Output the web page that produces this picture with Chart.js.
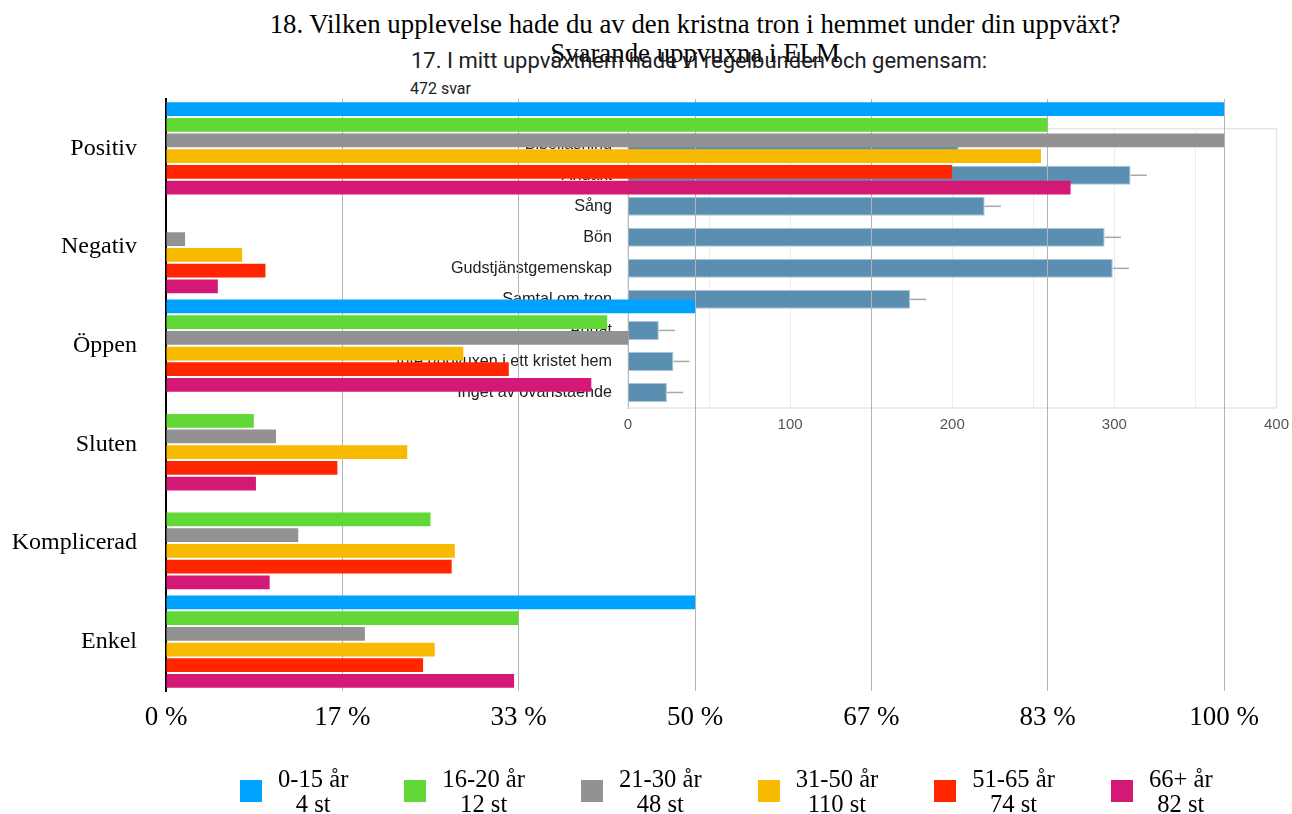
<!DOCTYPE html>
<html>
<head>
<meta charset="utf-8">
<script src="https://cdn.jsdelivr.net/npm/chart.js@4/dist/chart.umd.min.js"></script>
<style>
  html, body { margin: 0; padding: 0; background: #fff; }
  #wrap { position: relative; width: 1292px; height: 814px; overflow: hidden; }
  #mainTitle, #mainSub { position: absolute; left: 0; width: 1390px; text-align: center;
    font-family: "Liberation Serif", "Times New Roman", serif; font-size: 26.8px; color: #000; white-space: nowrap; }
  #mainTitle { top: 8px; line-height: 32px; }
  #mainSub { top: 37px; line-height: 32px; z-index: 1; }
  #ovTitle { position: absolute; left: 411px; top: 48px; line-height: 26px; font-family: Roboto, "Noto Sans", sans-serif;
    font-size: 22px; color: #202124; white-space: nowrap; z-index: 2; }
  #ovCount { position: absolute; left: 410px; top: 80px; line-height: 18px; font-family: Roboto, sans-serif;
    font-size: 16px; color: #202124; z-index: 2; }
  #ovCanvasBox { position: absolute; left: 380px; top: 103px; width: 917px; height: 347px; z-index: 0; }
  #mainCanvasBox { position: absolute; left: 0; top: 0; width: 1292px; height: 814px; z-index: 3; }
  #legend { position: absolute; left: 240px; top: 766px; display: flex; gap: 56px; z-index: 4;
    font-family: "Liberation Serif", "Times New Roman", serif; font-size: 24.6px; color: #000; }
  .item { display: flex; align-items: center; }
  .sw { width: 22px; height: 22px; margin-right: 16px; }
  .txt { text-align: center; line-height: 25px; white-space: nowrap; }
</style>
</head>
<body>
<div id="wrap">
  <div id="mainTitle">18. Vilken upplevelse hade du av den kristna tron i hemmet under din uppväxt?</div>
  <div id="mainSub">Svarande uppvuxna i ELM</div>
  <div id="ovTitle">17. I mitt uppväxthem hade vi regelbunden och gemensam:</div>
  <div id="ovCount">472 svar</div>
  <div id="ovCanvasBox"><canvas id="ov" width="917" height="347"></canvas></div>
  <div id="mainCanvasBox"><canvas id="main" width="1292" height="814"></canvas></div>
  <div id="legend"></div>
</div>
<script>
// ---- main chart data ----
const categories = ['Positiv', 'Negativ', 'Öppen', 'Sluten', 'Komplicerad', 'Enkel'];
const seriesNames = ['0-15 år', '16-20 år', '21-30 år', '31-50 år', '51-65 år', '66+ år'];
const seriesCounts = ['4 st', '12 st', '48 st', '110 st', '74 st', '82 st'];
const seriesColors = ['#00A2FF', '#61D836', '#929292', '#F8BA00', '#FF2600', '#D41876'];
const age0_15  = [100, 0, 50, 0, 0, 50];
const age16_20 = [83.3, 0, 41.7, 8.3, 25.0, 33.3];
const age21_30 = [100, 1.8, 43.7, 10.4, 12.5, 18.8];
const age31_50 = [82.7, 7.2, 28.1, 22.8, 27.3, 25.4];
const age51_65 = [74.3, 9.4, 32.4, 16.2, 27.0, 24.3];
const age66    = [85.5, 4.9, 40.2, 8.5, 9.8, 32.9];
const xTickValues = [0, 100 / 6, 200 / 6, 50, 400 / 6, 500 / 6, 100];

// ---- embedded (background) chart data ----
const ovCategories = ['Bibelläsning', 'Andakt', 'Sång', 'Bön', 'Gudstjänstgemenskap', 'Samtal om tron', 'Annat',
  'Inte uppvuxen i ett kristet hem', 'Inget av ovanstående'];
const ovValues = [204, 310, 220, 294, 299, 174, 19, 28, 24];
const ovErrors = [10, 10, 10, 10, 10, 10, 10, 10, 10];

const serif = "'Liberation Serif', 'Times New Roman', serif";
const sans = "'Liberation Sans', Arial, sans-serif";

// legend (HTML)
const legend = document.getElementById('legend');
seriesNames.forEach((n, i) => {
  const it = document.createElement('div'); it.className = 'item';
  const sw = document.createElement('div'); sw.className = 'sw'; sw.style.background = seriesColors[i];
  const tx = document.createElement('div'); tx.className = 'txt';
  tx.innerHTML = n + '<br>' + seriesCounts[i];
  it.appendChild(sw); it.appendChild(tx); legend.appendChild(it);
});

// background chart
const errorBars = {
  id: 'errorBars',
  afterDatasetsDraw(chart) {
    const meta = chart.getDatasetMeta(0);
    const xs = chart.scales.x;
    const ctx = chart.ctx;
    ctx.save();
    ctx.strokeStyle = '#a8a8a8';
    ctx.lineWidth = 1.5;
    meta.data.forEach((bar, i) => {
      const x0 = xs.getPixelForValue(ovValues[i]);
      const x1 = xs.getPixelForValue(ovValues[i] + ovErrors[i]);
      ctx.beginPath(); ctx.moveTo(x0, bar.y); ctx.lineTo(x1, bar.y); ctx.stroke();
    });
    ctx.restore();
  }
};
const frame = {
  id: 'frame',
  beforeDatasetsDraw(chart) {
    const a = chart.chartArea, ctx = chart.ctx;
    ctx.save(); ctx.strokeStyle = '#e6e6e6'; ctx.lineWidth = 1.5;
    ctx.strokeRect(a.left, a.top, a.right - a.left, a.bottom - a.top);
    ctx.restore();
  }
};
new Chart(document.getElementById('ov'), {
  type: 'bar',
  data: { labels: ovCategories, datasets: [{ data: ovValues, backgroundColor: '#5B8FB1',
    borderColor: '#A9C4D8', borderWidth: 1, categoryPercentage: 1, barPercentage: 0.61 }] },
  options: {
    indexAxis: 'y', responsive: false, animation: false,
    layout: { padding: { top: 0, right: 11, left: 0, bottom: 0 } },
    plugins: { legend: { display: false }, tooltip: { enabled: false } },
    scales: {
      x: { min: 0, max: 400, ticks: { stepSize: 50, padding: 8, color: '#555', font: { family: sans, size: 15 },
             callback: v => (v % 100 === 0 ? v : '') },
           grid: { color: '#ececec', drawTicks: false }, border: { display: false },
           afterFit: s => { s.height = 42; } },
      y: { ticks: { color: '#222', padding: 16, font: { family: sans, size: 16.2 } },
           grid: { display: false, drawTicks: false }, border: { color: '#333', width: 1 },
           afterFit: s => { s.width = 248; } }
    }
  },
  plugins: [frame, errorBars]
});

// main chart
const seriesData = [age0_15, age16_20, age21_30, age31_50, age51_65, age66];
new Chart(document.getElementById('main'), {
  type: 'bar',
  data: {
    labels: categories,
    datasets: seriesData.map((d, i) => ({ label: seriesNames[i], data: d, backgroundColor: seriesColors[i],
      categoryPercentage: 0.955, barPercentage: 0.875 }))
  },
  options: {
    indexAxis: 'y', responsive: false, animation: false,
    layout: { padding: { top: 99, right: 68, left: 0, bottom: 0 } },
    plugins: { legend: { display: false }, tooltip: { enabled: false } },
    scales: {
      x: { min: 0, max: 100,
           afterBuildTicks: s => { s.ticks = xTickValues.map(v => ({ value: v })); },
           ticks: { padding: 11, color: '#000', font: { family: serif, size: 27 },
             callback: v => Math.round(v) + ' %' },
           grid: { color: '#b4b4b4', lineWidth: 1, drawTicks: false }, border: { display: false },
           afterFit: s => { s.height = 123; } },
      y: { ticks: { color: '#000', padding: 29, font: { family: serif, size: 24 } },
           grid: { display: false, drawTicks: false }, border: { color: '#000', width: 2 },
           afterFit: s => { s.width = 166; } }
    }
  }
});
</script>
</body>
</html>
